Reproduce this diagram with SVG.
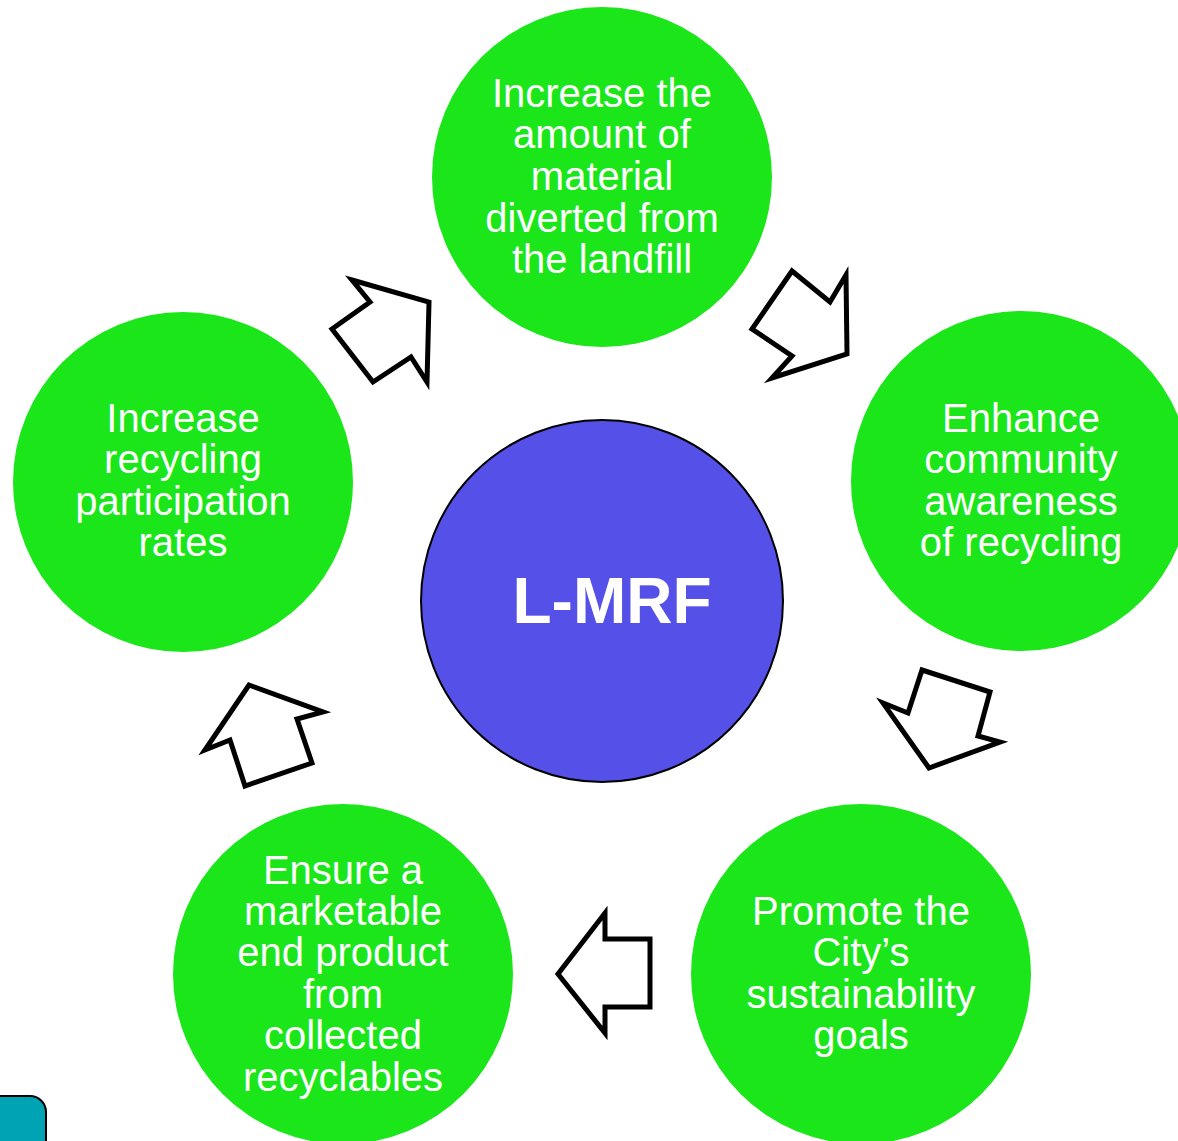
<svg xmlns="http://www.w3.org/2000/svg" width="1178" height="1141" viewBox="0 0 1178 1141">
<style>
.goal{fill:#1AE61A;}
.t{font-family:"Liberation Sans",Arial,sans-serif;font-size:40px;fill:#ffffff;text-anchor:middle;}
.c{font-family:"Liberation Sans",Arial,sans-serif;font-size:64px;font-weight:bold;fill:#ffffff;text-anchor:middle;}
.arr{fill:#ffffff;stroke:#000000;stroke-width:5;stroke-linejoin:miter;}
</style>
<rect width="1178" height="1141" fill="#ffffff"/>
<g id="corner-tab"><rect x="-20" y="1096" width="66" height="80" rx="16" fill="#00A3B4" stroke="#000" stroke-width="2"/></g>
<g id="center"><circle cx="602" cy="601" r="181" fill="#5551E8" stroke="#000" stroke-width="2"/><text class="c" x="612" y="623">L-MRF</text></g>
<g id="goal-top"><circle class="goal" cx="602" cy="177" r="170"/>
<text class="t" x="602" y="107">Increase the</text><text class="t" x="602" y="148">amount of</text><text class="t" x="602" y="190">material</text><text class="t" x="602" y="232">diverted from</text><text class="t" x="602" y="273">the landfill</text></g>
<g id="goal-right"><circle class="goal" cx="1021" cy="481" r="170"/>
<text class="t" x="1021" y="432">Enhance</text><text class="t" x="1021" y="473">community</text><text class="t" x="1021" y="515">awareness</text><text class="t" x="1021" y="556">of recycling</text></g>
<g id="goal-bottom-right"><circle class="goal" cx="861" cy="974" r="170"/>
<text class="t" x="861" y="925">Promote the</text><text class="t" x="861" y="966">City’s</text><text class="t" x="861" y="1008">sustainability</text><text class="t" x="861" y="1049">goals</text></g>
<g id="goal-bottom-left"><circle class="goal" cx="343" cy="974" r="170"/>
<text class="t" x="343" y="884">Ensure a</text><text class="t" x="343" y="925">marketable</text><text class="t" x="343" y="966">end product</text><text class="t" x="343" y="1008">from</text><text class="t" x="343" y="1049">collected</text><text class="t" x="343" y="1091">recyclables</text></g>
<g id="goal-left"><circle class="goal" cx="183" cy="482" r="170"/>
<text class="t" x="183" y="432">Increase</text><text class="t" x="183" y="473">recycling</text><text class="t" x="183" y="515">participation</text><text class="t" x="183" y="556">rates</text></g>
<g id="connectors">
<polygon class="arr" points="352,280 429,302 427,382 411,357 373,382 332,329 370,302"/>
<polygon class="arr" points="792,271 830,302 846,275 847,354 772,378 792,356 752,329"/>
<polygon class="arr" points="922,670 990,692 978,736 1000,742 929,768 883,703 908,713"/>
<polygon class="arr" points="605,913 605,939 650,939 650,1007 605,1007 605,1033 558,974"/>
<polygon class="arr" points="249,685 323,712 297,719 312,763 245,786 230,740 205,750"/>
</g>
</svg>
